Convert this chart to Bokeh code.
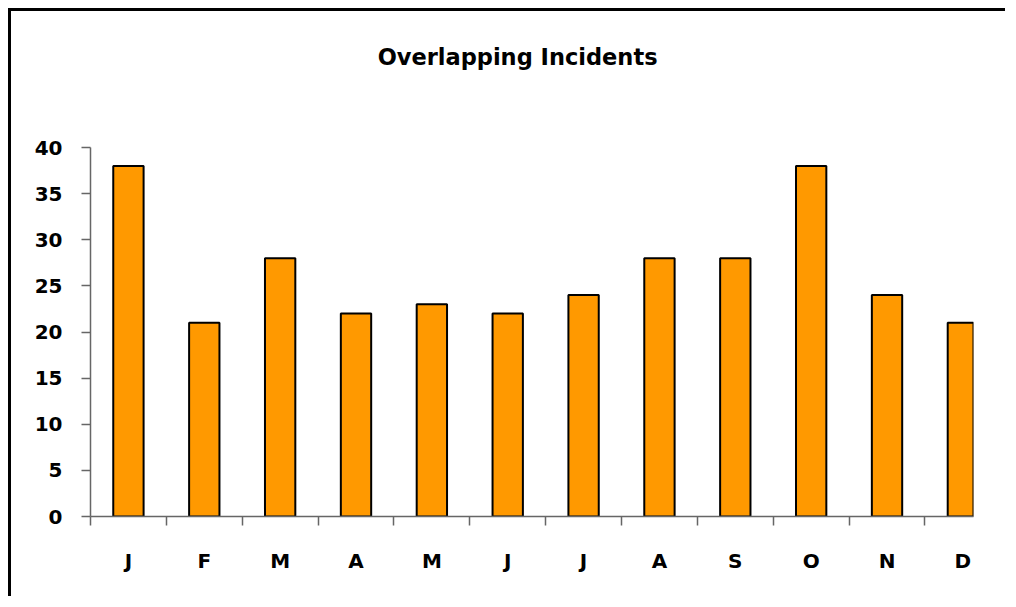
from bokeh.plotting import figure
from bokeh.models import Range1d, FixedTicker, ColumnDataSource, Label
from bokeh.embed import file_html
from bokeh.resources import INLINE

months = ["J", "F", "M", "A", "M", "J", "J", "A", "S", "O", "N", "D"]
incidents = [38, 21, 28, 22, 23, 22, 24, 28, 28, 38, 24, 21]
y_ticks = [0, 5, 10, 15, 20, 25, 30, 35, 40]
title_text = "Overlapping Incidents"

centers = [i + 0.5 for i in range(len(months))]
boundaries = [float(i) for i in range(len(months))]

src = ColumnDataSource(dict(x=centers, top=incidents, month=months))

# frame extends above the axis so the chart title can sit inside it
p = figure(width=997, height=588, output_backend="svg", toolbar_location=None,
           x_range=Range1d(0, 11.64), y_range=Range1d(0, 53.77),
           min_border_left=79, min_border_right=35, min_border_top=9, min_border_bottom=83)
p.styles = {"border-left": "3px solid black", "border-top": "3px solid black",
            "margin-left": "8px", "margin-top": "8px"}
p.background_fill_color = "#FFFFFF"
p.border_fill_color = "#FFFFFF"
p.outline_line_color = None
p.grid.visible = False

p.vbar(x="x", top="top", bottom=0, width=0.4, source=src,
       fill_color="#FF9900", line_color="#000000", line_width=2)

font = "DejaVu Sans"

p.add_layout(Label(x=5.63, y=49.76, text=title_text,
                   text_align="center", text_baseline="middle",
                   text_font=font, text_font_size="22.5px", text_font_style="bold",
                   text_color="#000000"))

xa = p.xaxis[0]
xa.ticker = FixedTicker(ticks=centers, minor_ticks=boundaries)
xa.major_label_overrides = {c: m for c, m in zip(centers, months)}
xa.major_tick_out = 0
xa.major_tick_in = 0
xa.minor_tick_out = 9
xa.minor_tick_in = 0
xa.minor_tick_line_color = "#666666"
xa.minor_tick_line_width = 1.5
xa.axis_line_color = "#666666"
xa.axis_line_width = 1.5
xa.major_label_standoff = 23
xa.major_label_text_font = font
xa.major_label_text_font_style = "bold"
xa.major_label_text_font_size = "20px"
xa.major_label_text_color = "#000000"

ya = p.yaxis[0]
ya.ticker = FixedTicker(ticks=y_ticks, minor_ticks=[])
ya.bounds = (min(y_ticks), max(y_ticks))
ya.major_tick_out = 9
ya.major_tick_in = 0
ya.major_tick_line_color = "#666666"
ya.major_tick_line_width = 1.5
ya.axis_line_color = "#666666"
ya.axis_line_width = 1.5
ya.major_label_standoff = 19
ya.major_label_text_font = font
ya.major_label_text_font_style = "bold"
ya.major_label_text_font_size = "20px"
ya.major_label_text_color = "#000000"

open("out.html", "w").write(file_html(p, INLINE))
